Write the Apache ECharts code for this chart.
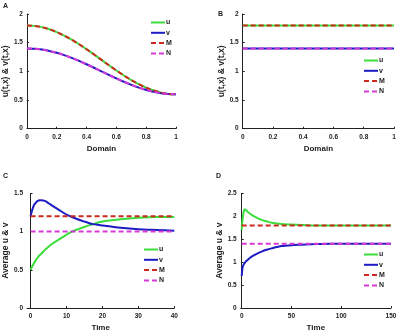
<!DOCTYPE html>
<html>
<head>
<meta charset="utf-8">
<script src="https://cdn.jsdelivr.net/npm/echarts@6/dist/echarts.min.js"></script>
<style>
  html, body { margin: 0; padding: 0; background: #fff; }
  #chart { width: 400px; height: 333px; }
</style>
</head>
<body>
<div id="chart"></div>
<script>
// Panel A: spatial profiles
const domainX = [0, 0.05, 0.1, 0.15, 0.2, 0.25, 0.3, 0.35, 0.4, 0.45, 0.5, 0.55, 0.6, 0.65, 0.7, 0.75, 0.8, 0.85, 0.9, 0.95, 1];
const uProfile = [1.8, 1.793, 1.771, 1.735, 1.685, 1.624, 1.553, 1.472, 1.385, 1.294, 1.2, 1.106, 1.015, 0.928, 0.847, 0.776, 0.715, 0.665, 0.629, 0.607, 0.6];
const vProfile = [1.4, 1.395, 1.38, 1.356, 1.324, 1.283, 1.235, 1.182, 1.124, 1.063, 1.0, 0.937, 0.876, 0.818, 0.765, 0.717, 0.676, 0.644, 0.62, 0.605, 0.6];

// Panel B: uniform state
const domainFlat = [0, 1];
const uFlat = [1.8, 1.8];
const vFlat = [1.4, 1.4];
const mFlat = [1.8, 1.8];
const nFlat = [1.4, 1.4];

// Panel C: averages over time
const timeC = [0, 0.5, 1, 1.5, 2, 2.5, 3, 4, 5, 6, 8, 10, 12, 15, 17, 20, 25, 30, 35, 40];
const uAvgC = [0.5, 0.55, 0.59, 0.63, 0.66, 0.69, 0.71, 0.76, 0.8, 0.84, 0.9, 0.96, 1.01, 1.06, 1.09, 1.13, 1.16, 1.18, 1.19, 1.19];
const vAvgC = [1.2, 1.29, 1.35, 1.38, 1.4, 1.41, 1.41, 1.4, 1.37, 1.34, 1.28, 1.22, 1.18, 1.13, 1.1, 1.08, 1.05, 1.03, 1.02, 1.01];
const timeEndsC = [0, 40];
const mC = [1.2, 1.2];
const nC = [1.0, 1.0];

// Panel D: averages over time
const timeD = [0, 0.5, 1, 2, 3, 4, 5, 7, 10, 15, 20, 25, 30, 40, 50, 60, 70, 80, 100, 125, 150];
const uAvgD = [1.7, 1.85, 1.95, 2.1, 2.15, 2.14, 2.12, 2.08, 2.03, 1.97, 1.92, 1.89, 1.86, 1.83, 1.82, 1.81, 1.8, 1.8, 1.8, 1.8, 1.8];
const vAvgD = [0.7, 0.82, 0.9, 0.95, 0.98, 1.01, 1.03, 1.07, 1.12, 1.18, 1.23, 1.27, 1.3, 1.35, 1.37, 1.38, 1.39, 1.395, 1.4, 1.4, 1.4];
const timeEndsD = [0, 150];
const mD = [1.8, 1.8];
const nD = [1.4, 1.4];

const timeTicksC = [0, 10, 20, 30, 40];
const timeTicksD = [0, 50, 100, 150];
const legendNames = ["u", "v", "M", "N"];
const panelLetters = ["A", "B", "C", "D"];

const FONT = "Liberation Sans, Arial, sans-serif";
const colors = { u: "#3ddc3d", v: "#1c1cc4", M: "#cc2a1e", N: "#d63ad6" };

const pairs = (xs, ys) => xs.map((x, i) => [x, ys[i]]);

function lineSeries(name, idx, data, dashed) {
  return {
    name,
    type: "line",
    xAxisIndex: idx,
    yAxisIndex: idx,
    data,
    symbol: "none",
    smooth: dashed ? false : 0.2,
    animation: false,
    z: dashed ? 3 : 2,
    lineStyle: {
      color: colors[name],
      width: 2,
      type: dashed ? [5, 3] : "solid"
    },
    itemStyle: { color: colors[name] }
  };
}

function xAxis(idx, name, min, max, interval, ticks) {
  const axis = {
    type: "value",
    gridIndex: idx,
    min,
    max,
    name,
    nameLocation: "middle",
    nameGap: 16,
    nameTextStyle: { fontFamily: FONT, fontWeight: "bold", fontSize: 8, color: "#222" },
    axisLine: { lineStyle: { color: "#222", width: 1 } },
    axisTick: { inside: true, length: 2, lineStyle: { color: "#222" } },
    axisLabel: { fontFamily: FONT, fontWeight: "bold", fontSize: 6.5, color: "#222", margin: 5 },
    splitLine: { show: false }
  };
  if (ticks) {
    axis.axisTick.customValues = ticks;
    axis.axisLabel.customValues = ticks;
  } else {
    axis.interval = interval;
  }
  return axis;
}

function yAxis(idx, name, max, gap) {
  return {
    type: "value",
    gridIndex: idx,
    min: 0,
    max,
    interval: 0.5,
    name,
    nameLocation: "middle",
    nameGap: gap,
    nameTextStyle: { fontFamily: FONT, fontWeight: "bold", fontSize: 8.5, color: "#222" },
    axisLine: { show: true, lineStyle: { color: "#222", width: 1 } },
    axisTick: { show: true, inside: true, length: 2, lineStyle: { color: "#222" } },
    axisLabel: { fontFamily: FONT, fontWeight: "bold", fontSize: 6.5, color: "#222", margin: 4 },
    splitLine: { show: false }
  };
}

function legend(left, top) {
  return {
    data: legendNames,
    orient: "vertical",
    left,
    top,
    itemWidth: 14,
    itemHeight: 6,
    itemGap: 3.3,
    padding: 0,
    itemStyle: { opacity: 0 },
    textStyle: { fontFamily: FONT, fontWeight: "bold", fontSize: 7, color: "#222", padding: [0, 0, 0, -4] }
  };
}

const chart = echarts.init(document.getElementById("chart"), null, { renderer: "canvas" });

chart.setOption({
  backgroundColor: "#fff",
  animation: false,
  grid: [
    { left: 24.3, top: 14, width: 151.7, height: 114.7 },
    { left: 242.7, top: 14, width: 151.3, height: 114.7 },
    { left: 22.6, top: 193.3, width: 151.7, height: 115 },
    { left: 240.7, top: 193.3, width: 150.3, height: 115 }
  ],
  xAxis: [
    xAxis(0, "Domain", 0, 1, 0.2),
    xAxis(1, "Domain", 0, 1, 0.2),
    xAxis(2, "Time", -1, 40, null, timeTicksC),
    xAxis(3, "Time", -1, 150, null, timeTicksD)
  ],
  yAxis: [
    yAxis(0, "u(t,x) & v(t,x)", 2, 15),
    yAxis(1, "u(t,x) & v(t,x)", 2, 14),
    yAxis(2, "Average u & v", 1.5, 17),
    yAxis(3, "Average u & v", 2.5, 17)
  ],
  legend: [
    legend(150, 19),
    legend(363, 57),
    legend(143, 246),
    legend(363, 251)
  ],
  graphic: panelLetters.map((t, i) => ({
    type: "text",
    left: [3, 218, 3, 216][i],
    top: [3, 11, 173, 173][i],
    style: { text: t, font: "bold 7px " + FONT, fill: "#222" }
  })),
  series: [
    lineSeries("u", 0, pairs(domainX, uProfile), false),
    lineSeries("v", 0, pairs(domainX, vProfile), false),
    lineSeries("M", 0, pairs(domainX, uProfile), true),
    lineSeries("N", 0, pairs(domainX, vProfile), true),

    lineSeries("u", 1, pairs(domainFlat, uFlat), false),
    lineSeries("v", 1, pairs(domainFlat, vFlat), false),
    lineSeries("M", 1, pairs(domainFlat, mFlat), true),
    lineSeries("N", 1, pairs(domainFlat, nFlat), true),

    lineSeries("u", 2, pairs(timeC, uAvgC), false),
    lineSeries("v", 2, pairs(timeC, vAvgC), false),
    lineSeries("M", 2, pairs(timeEndsC, mC), true),
    lineSeries("N", 2, pairs(timeEndsC, nC), true),

    lineSeries("u", 3, pairs(timeD, uAvgD), false),
    lineSeries("v", 3, pairs(timeD, vAvgD), false),
    lineSeries("M", 3, pairs(timeEndsD, mD), true),
    lineSeries("N", 3, pairs(timeEndsD, nD), true)
  ]
});
</script>
</body>
</html>
